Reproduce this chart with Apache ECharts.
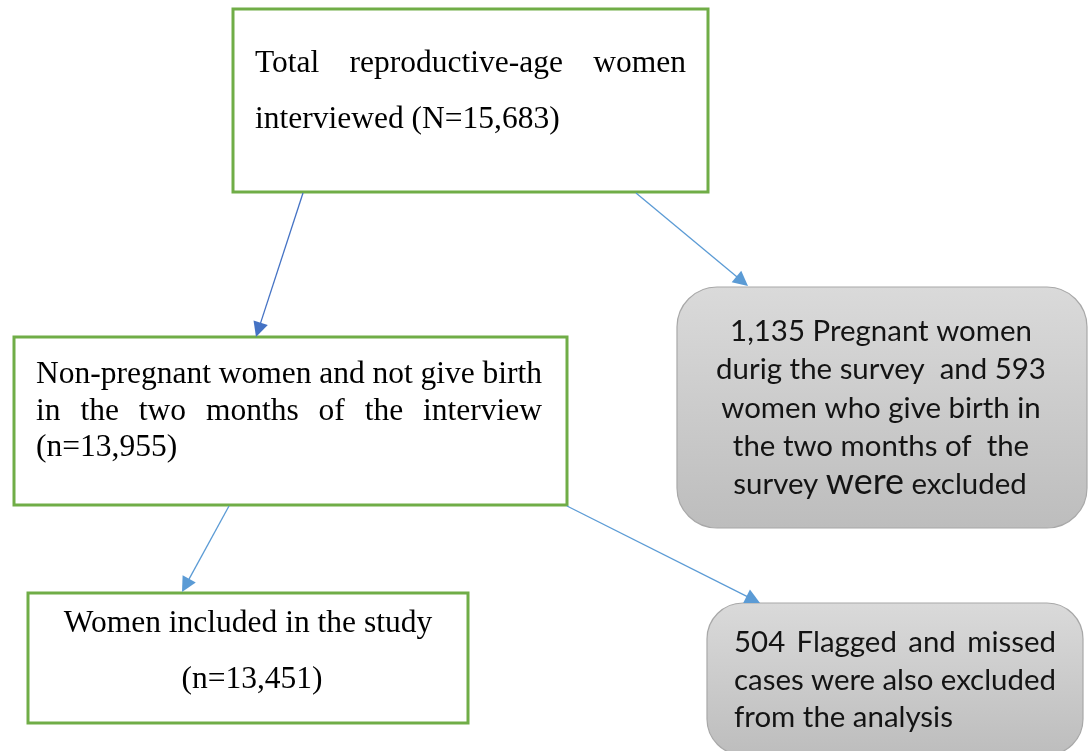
<!DOCTYPE html>
<html><head><meta charset="utf-8">
<script src="https://cdn.jsdelivr.net/npm/echarts@6/dist/echarts.min.js"></script>
<style>html,body{margin:0;padding:0;background:#fff}#c{width:1091px;height:751px}</style>
</head><body><div id="c"></div>
<script>
// ---------- data ----------
const stageCounts = [15683, 13955, 13451];      // total interviewed, non-pregnant, included
const exclusionCounts = [1135, 593, 504];       // pregnant, gave birth, flagged/missed
const fmt = n => n.toLocaleString('en-US');
const boxLines = [
  ["Total reproductive-age women", "interviewed (N=" + fmt(stageCounts[0]) + ")"],
  ["Non-pregnant women and not give birth", "in the two months of the interview", "(n=" + fmt(stageCounts[1]) + ")"],
  ["Women included in the study", "(n=" + fmt(stageCounts[2]) + ")"],
  [fmt(exclusionCounts[0]) + " Pregnant women", "durig the survey  and " + exclusionCounts[1], "women who give birth in", "the two months of  the", "survey |were| excluded"],
  [exclusionCounts[2] + " Flagged and missed", "cases were also excluded", "from the analysis"]
];
const links = [[0, 1], [0, 3], [1, 2], [1, 4]];

// ---------- layout (positions / styles) ----------
const SERIF = '"Liberation Serif", "Times New Roman", serif';
const SANS = 'Lato, "Open Sans", sans-serif';
const boxLayout = [
  {kind: 'green', x: 233, y: 9, w: 475, h: 183, font: SERIF, size: 31.5,
   lines: [{b: 74, mode: 'justify', x0: 255, x1: 686}, {b: 130, mode: 'left', x0: 255}]},
  {kind: 'green', x: 14, y: 337, w: 553, h: 168, font: SERIF, size: 31.5,
   lines: [{b: 385, mode: 'justify', x0: 36, x1: 542}, {b: 422, mode: 'justify', x0: 36, x1: 542}, {b: 458, mode: 'left', x0: 36}]},
  {kind: 'green', x: 28, y: 593, w: 440, h: 130, font: SERIF, size: 31.5,
   lines: [{b: 634, mode: 'center', cx: 248}, {b: 690, mode: 'center', cx: 252}]},
  {kind: 'gray', x: 677, y: 287, w: 410, h: 241, r: 40, font: SANS, size: 'fit',
   lines: [{b: 343, mode: 'center', cx: 881}, {b: 381, mode: 'center', cx: 881}, {b: 420, mode: 'center', cx: 881}, {b: 458, mode: 'center', cx: 881}, {b: 496, mode: 'center', cx: 880}]},
  {kind: 'gray', x: 707, y: 603, w: 376, h: 152, r: 36, font: SANS, size: 'fit',
   lines: [{b: 654, mode: 'justify', x0: 734, x1: 1056}, {b: 692, mode: 'justify', x0: 734, x1: 1056}, {b: 729, mode: 'left', x0: 734}]}
];
const linkAnchors = [
  {from: [303, 193], to: [256, 337], color: '#4472c4'},
  {from: [636, 193], to: [748, 286], color: '#5b9bd5'},
  {from: [229, 506], to: [182, 592], color: '#5b9bd5'},
  {from: [567, 506], to: [760, 603], color: '#5b9bd5'}
];
const ARROW = 15;

// ---------- text measurement ----------
const mctx = document.createElement('canvas').getContext('2d');
function measure(text, size, fam) { mctx.font = size + 'px ' + fam; return mctx.measureText(text).width; }
const sansSize = 302 / measure(boxLines[3][0], 100, SANS) * 100;
const midK = {};
midK[SERIF] = 0.3375; midK[SANS] = 0.387;

function textEl(text, x, y, size, fam, align, color) {
  return {type: 'text', x: x, y: y, silent: true,
    style: {text: text, fontSize: size, fontFamily: fam, fill: color, align: align, verticalAlign: 'middle',
            textAlign: align, textVerticalAlign: 'middle'}};
}

function renderBox(params, api) {
  const i = params.dataIndex, L = boxLayout[i];
  const p0 = api.coord([L.x, L.y]), p1 = api.coord([L.x + L.w, L.y + L.h]);
  const size = L.size === 'fit' ? sansSize : L.size;
  const color = L.kind === 'green' ? '#000' : '#141414';
  const children = [];
  if (L.kind === 'green') {
    children.push({type: 'rect', shape: {x: p0[0], y: p0[1], width: p1[0] - p0[0], height: p1[1] - p0[1]},
      style: {fill: '#fff', stroke: '#70ad47', lineWidth: 3}});
  } else {
    children.push({type: 'rect', shape: {x: p0[0], y: p0[1], width: p1[0] - p0[0], height: p1[1] - p0[1], r: L.r},
      style: {fill: new echarts.graphic.LinearGradient(0, 0, 0, 1, [{offset: 0, color: '#dadada'}, {offset: 1, color: '#bdbdbd'}]),
              stroke: '#a8a8a8', lineWidth: 1.2}});
  }
  boxLines[i].forEach((line, j) => {
    const ln = L.lines[j];
    const y = api.coord([0, ln.b])[1] - midK[L.font] * size;
    if (line.indexOf('|') >= 0) {
      // mixed-size tokens (the larger "were")
      const toks = line.split('|').map((t, k) => ({t: t, s: k === 1 ? size * 1.22 : size}));
      const widths = toks.map(o => measure(o.t, o.s, L.font));
      const tot = widths.reduce((a, b) => a + b, 0);
      let x = api.coord([ln.cx, 0])[0] - tot / 2;
      toks.forEach((o, k) => {
        const yy = api.coord([0, ln.b])[1] - midK[L.font] * o.s;
        children.push(textEl(o.t, x, yy, o.s, L.font, 'left', color));
        x += widths[k];
      });
    } else if (ln.mode === 'justify') {
      const words = line.split(/\s+/);
      const ws = words.map(w => measure(w, size, L.font));
      const x0 = api.coord([ln.x0, 0])[0], x1 = api.coord([ln.x1, 0])[0];
      const gap = (x1 - x0 - ws.reduce((a, b) => a + b, 0)) / (words.length - 1);
      let x = x0;
      words.forEach((w, k) => { children.push(textEl(w, x, y, size, L.font, 'left', color)); x += ws[k] + gap; });
    } else if (ln.mode === 'left') {
      children.push(textEl(line, api.coord([ln.x0, 0])[0], y, size, L.font, 'left', color));
    } else {
      children.push(textEl(line, api.coord([ln.cx, 0])[0], y, size, L.font, 'center', color));
    }
  });
  return {type: 'group', children: children};
}

const arrowData = links.map((lk, k) => {
  const a = linkAnchors[k];
  const dx = a.to[0] - a.from[0], dy = a.to[1] - a.from[1], d = Math.hypot(dx, dy);
  const end = [a.to[0] - dx / d * ARROW / 2, a.to[1] - dy / d * ARROW / 2];
  return {name: lk.join('-'), coords: [a.from, end], lineStyle: {color: a.color}, itemStyle: {color: a.color}};
});

const chart = echarts.init(document.getElementById('c'), null, {renderer: 'canvas'});
chart.setOption({
  animation: false,
  backgroundColor: '#fff',
  grid: {left: 0, right: 0, top: 0, bottom: 0},
  xAxis: {type: 'value', min: 0, max: 1091, show: false},
  yAxis: {type: 'value', min: 0, max: 751, inverse: true, show: false},
  series: [
    {type: 'custom', coordinateSystem: 'cartesian2d', renderItem: renderBox,
     data: boxLines.map((l, i) => [i]), silent: true, z: 2},
    {type: 'lines', coordinateSystem: 'cartesian2d', data: arrowData, symbol: ['none', 'triangle'],
     symbolSize: ARROW, lineStyle: {width: 1.3, opacity: 1, curveness: 0}, silent: true, z: 3}
  ]
});
</script></body></html>
